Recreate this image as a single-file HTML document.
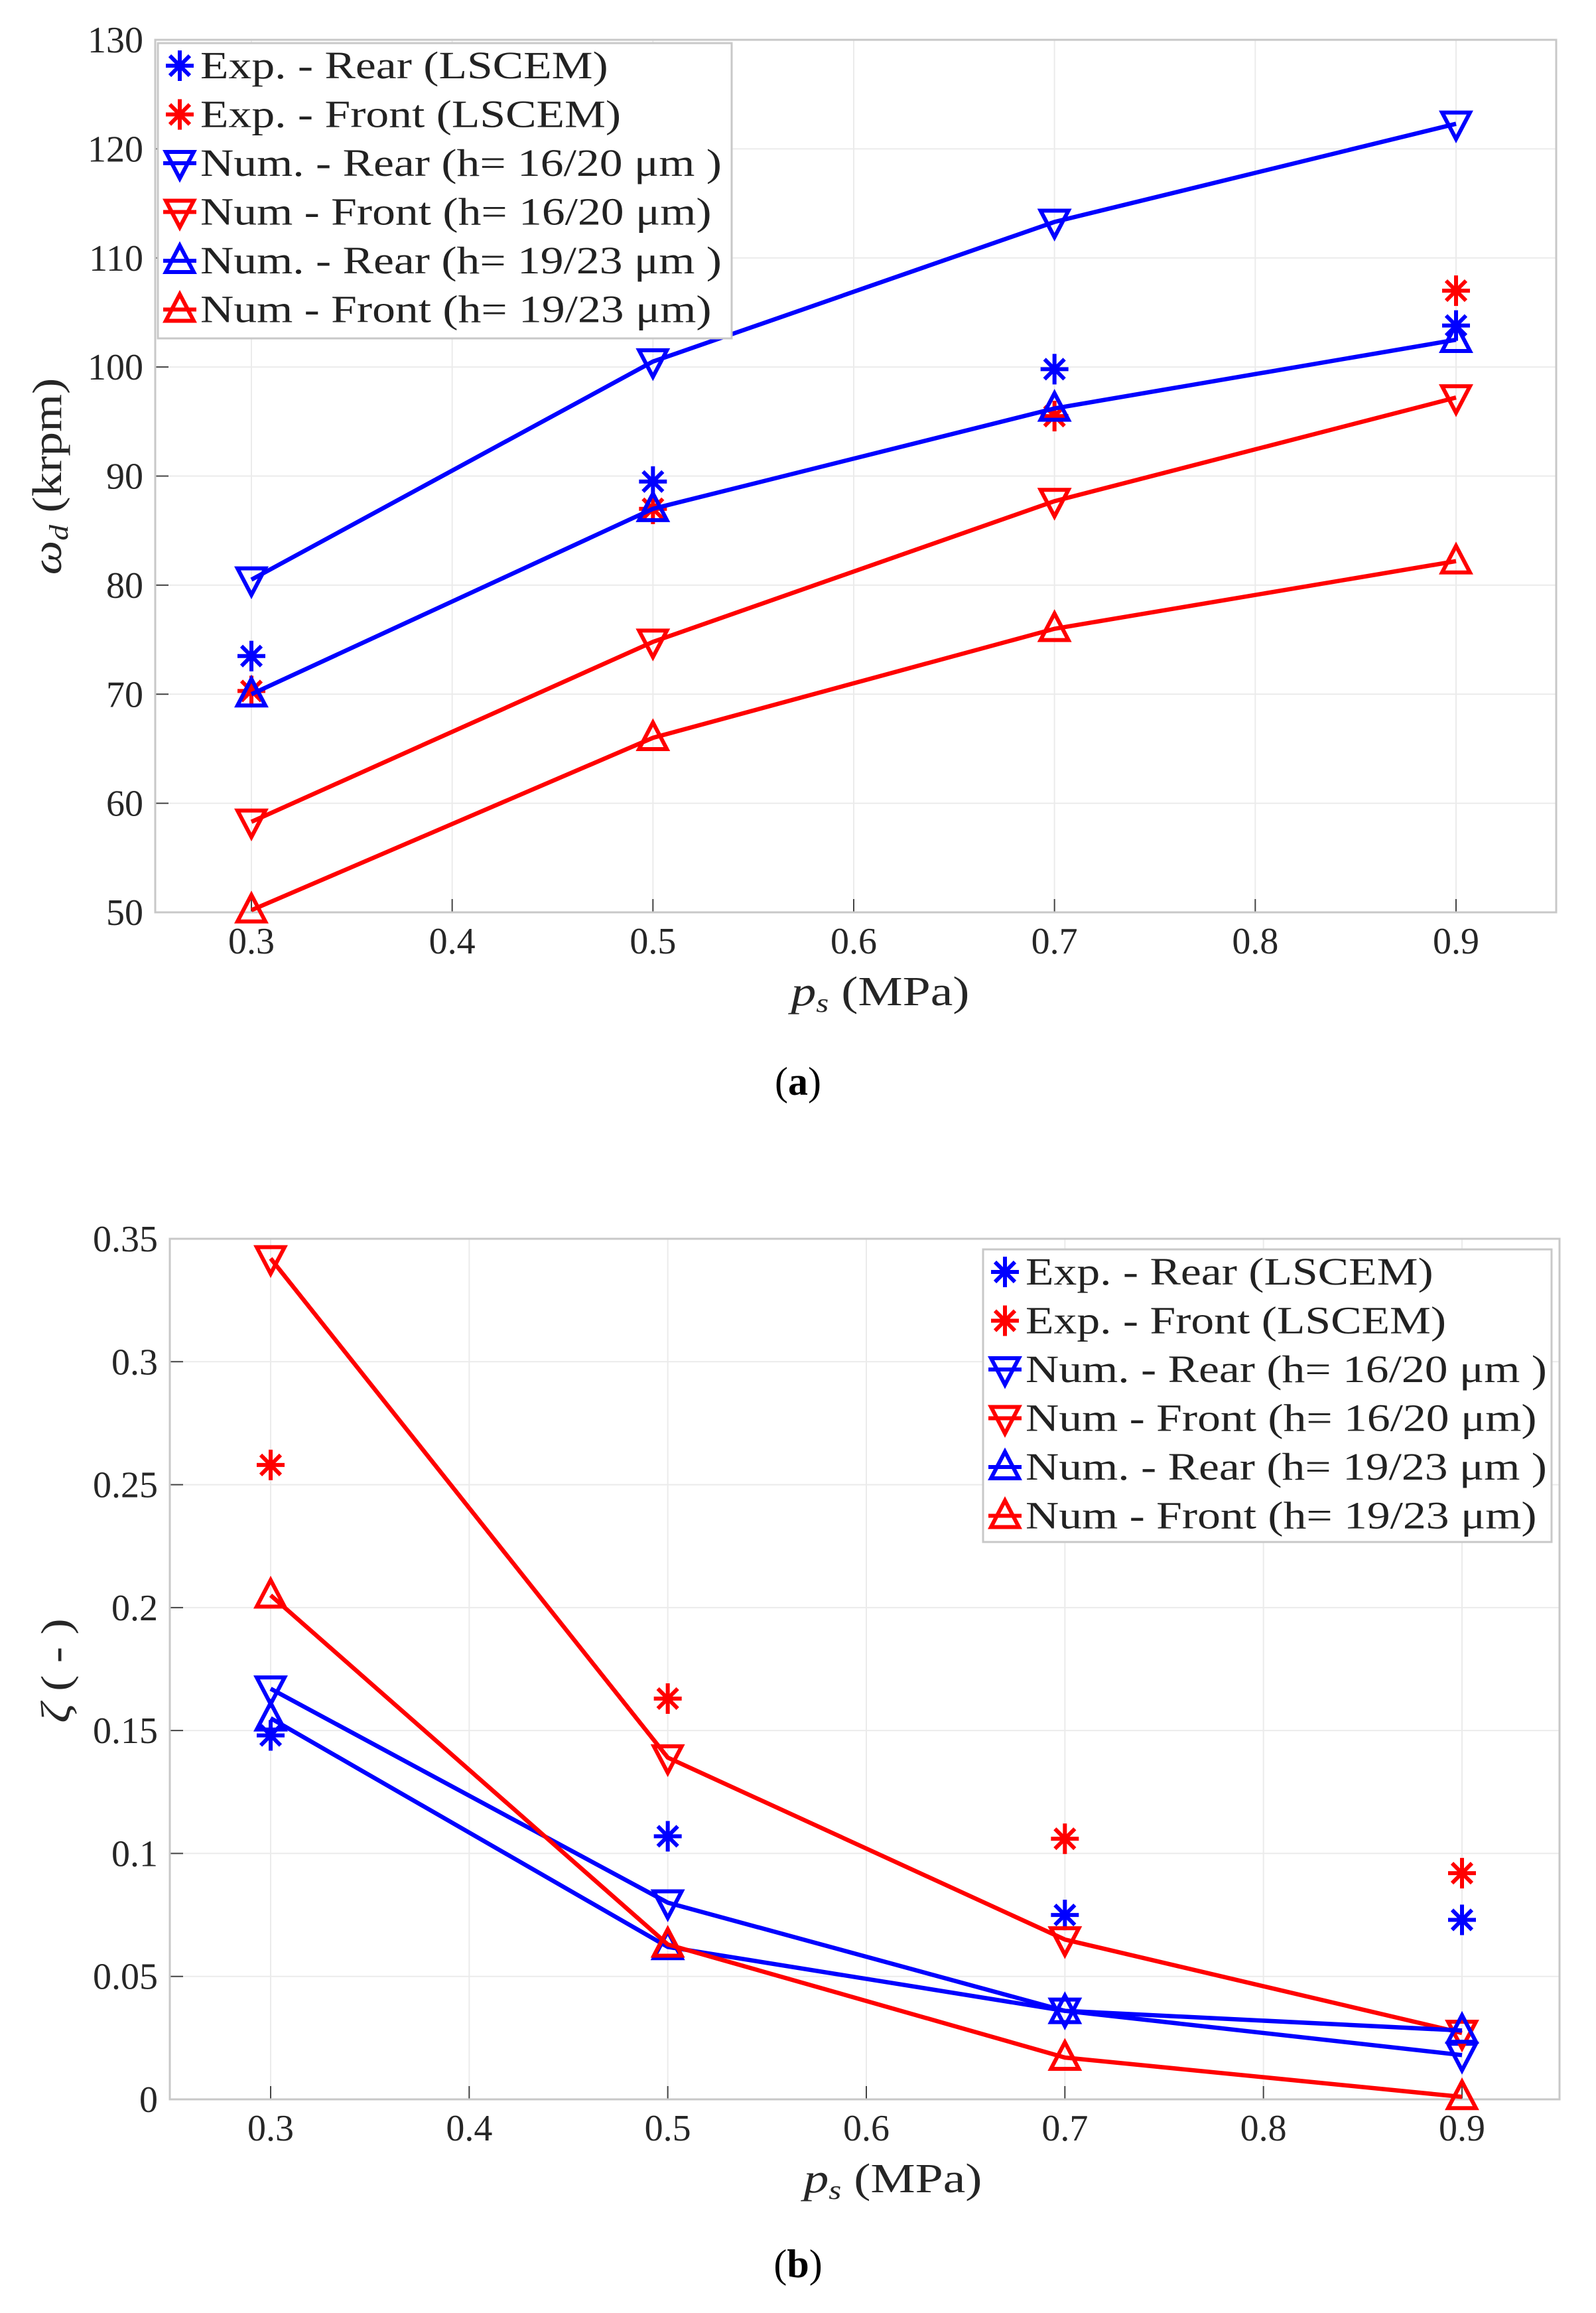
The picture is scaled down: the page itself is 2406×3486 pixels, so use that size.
<!DOCTYPE html>
<html><head><meta charset="utf-8"><style>
html,body{margin:0;padding:0;background:#fff;}
svg{display:block;font-family:"Liberation Serif",serif;}
</style></head><body>
<svg id="svg" width="2406" height="3486" viewBox="0 0 2406 3486" xmlns="http://www.w3.org/2000/svg"></svg>
<script>
const xCats=[0.3,0.5,0.7,0.9];
const xTicks=[0.3,0.4,0.5,0.6,0.7,0.8,0.9];
const aTicks=[50,60,70,80,90,100,110,120,130];
const aExpRear=[73.5,89.5,99.8,103.8];
const aExpFront=[70.3,87,95.5,107];
const aNumRear1620=[80.5,100.5,113.3,122.3];
const aNumFront1620=[58.3,74.8,87.7,97.2];
const aNumRear1923=[70,87,96.2,102.5];
const aNumFront1923=[50.2,66,76,82.2];
const bTicks=[0,0.05,0.1,0.15,0.2,0.25,0.3,0.35];
const bExpRear=[0.148,0.107,0.075,0.073];
const bExpFront=[0.258,0.163,0.106,0.092];
const bNumRear1620=[0.167,0.080,0.036,0.018];
const bNumFront1620=[0.342,0.139,0.065,0.027];
const bNumRear1923=[0.155,0.062,0.036,0.028];
const bNumFront1923=[0.205,0.063,0.017,0.001];
const legendLabels=["Exp. - Rear (LSCEM)","Exp. - Front (LSCEM)","Num. - Rear (h= 16/20 μm )","Num - Front (h= 16/20 μm)","Num. - Rear (h= 19/23 μm )","Num - Front (h= 19/23 μm)"];

const NS="http://www.w3.org/2000/svg";
const svg=document.getElementById('svg');
function mk(tag,attrs,parent){const e=document.createElementNS(NS,tag);for(const k in attrs)e.setAttribute(k,attrs[k]);(parent||svg).appendChild(e);return e;}
function stretch(t,k){const l=t.getComputedTextLength();t.setAttribute('textLength',l*k);t.setAttribute('lengthAdjust','spacingAndGlyphs');}
function marker(g,type,cx,cy,col){
  const s=21;
  if(type==='star'){
    const p=mk('path',{d:`M${cx-s} ${cy}H${cx+s}M${cx} ${cy-s-2}V${cy+s+2}M${cx-15} ${cy-15}L${cx+15} ${cy+15}M${cx-15} ${cy+15}L${cx+15} ${cy-15}`,stroke:col,'stroke-width':6,fill:'none'},g);
    
  } else if(type==='down'){
    const p=mk('path',{d:`M${cx-s} ${cy-17}L${cx+s} ${cy-17}L${cx} ${cy+23}Z`,stroke:col,'stroke-width':6,fill:'none'},g);
    
  } else {
    const p=mk('path',{d:`M${cx-s} ${cy+17}L${cx+s} ${cy+17}L${cx} ${cy-23}Z`,stroke:col,'stroke-width':6,fill:'none'},g);
    
  }
}
function chart(cfg){
  const {L,R,T,B,x0,x1,ymin,ymax,yTicks,fmt,series,leg,name}=cfg;
  const g=mk('g',{});
  
  
  const X=v=>x0+(v-0.3)/(0.6)*(x1-x0);
  const Y=v=>B-(v-ymin)/(ymax-ymin)*(B-T);
  xTicks.forEach(t=>{const l=mk('line',{x1:X(t),x2:X(t),y1:T,y2:B,stroke:'#ebebeb','stroke-width':2},g);
    const tx=mk('text',{x:X(t),y:B+62,'font-size':56,'text-anchor':'middle',fill:'#262626'},g);tx.textContent=t.toFixed(1);
    mk('line',{x1:X(t),x2:X(t),y1:B,y2:B-20,stroke:'#444','stroke-width':2},g);});
  yTicks.forEach(t=>{const l=mk('line',{x1:L,x2:R,y1:Y(t),y2:Y(t),stroke:'#ebebeb','stroke-width':2},g);
    const tx=mk('text',{x:L-18,y:Y(t)+19,'font-size':56,'text-anchor':'end',fill:'#262626'},g);tx.textContent=fmt(t);
    mk('line',{x1:L,x2:L+20,y1:Y(t),y2:Y(t),stroke:'#444','stroke-width':2},g);});
  const box=mk('rect',{x:L,y:T,width:R-L,height:B-T,fill:'none',stroke:'#c8c8c8','stroke-width':3},g);
  
  series.forEach(s=>{
    const sg=mk('g',{},g);
    if(s.line){const pl=mk('polyline',{points:xCats.map((x,i)=>X(x)+','+Y(s.v[i])).join(' '),fill:'none',stroke:s.col,'stroke-width':6.5},sg);}
    xCats.forEach((x,i)=>marker(sg,s.m,X(x),Y(s.v[i]),s.col));
  });
  const lg=mk('g',{},g);
  mk('rect',{x:leg.x,y:leg.y,width:leg.w,height:leg.h,fill:'#fff',stroke:'#c8c8c8','stroke-width':3},lg);
  series.forEach((s,i)=>{
    const cy=leg.y+34+i*73.5;
    const eg=mk('g',{},lg);
    if(s.line)mk('line',{x1:leg.x+8,x2:leg.x+58,y1:cy,y2:cy,stroke:s.col,'stroke-width':6},eg);
    marker(eg,s.m,leg.x+33,cy,s.col);
    const t=mk('text',{x:leg.x+64,y:cy+19,'font-size':58,fill:'#222'},eg);t.textContent=legendLabels[i];
    stretch(t,1.2);
  });
  const xl=mk('text',{x:(x0+x1)/2+40,y:B+140,'font-size':62,'text-anchor':'middle',fill:'#262626'},g);
  xl.innerHTML='<tspan font-style="italic">p</tspan><tspan font-style="italic" font-size="40" dy="10">s</tspan><tspan dy="-10"> (MPa)</tspan>';
  
  stretch(xl,1.22);
  const yl=mk('text',{transform:`translate(${cfg.ylx},${cfg.yly}) rotate(-90)`,'font-size':62,'text-anchor':'middle',fill:'#262626'},g);
  yl.innerHTML=cfg.ylab;
  stretch(yl,1.18);
  const cap=mk('text',{x:1203,y:cfg.capY,'font-size':60,'text-anchor':'middle',fill:'#000'},g);
  cap.innerHTML=cfg.cap;
}
chart({name:'chart-a-speed',L:234,R:2346,T:60,B:1375,x0:379,x1:2195,ymin:50,ymax:130,yTicks:aTicks,fmt:t=>String(t),
 series:[{name:'exp-rear',v:aExpRear,col:'#0000ff',m:'star',line:false},{name:'exp-front',v:aExpFront,col:'#ff0000',m:'star',line:false},
 {name:'num-rear-16-20',v:aNumRear1620,col:'#0000ff',m:'down',line:true},{name:'num-front-16-20',v:aNumFront1620,col:'#ff0000',m:'down',line:true},
 {name:'num-rear-19-23',v:aNumRear1923,col:'#0000ff',m:'up',line:true},{name:'num-front-19-23',v:aNumFront1923,col:'#ff0000',m:'up',line:true}],
 leg:{x:238,y:65,w:865,h:445},ylx:92,yly:718,ylab:'<tspan font-style="italic">ω</tspan><tspan font-style="italic" font-size="40" dy="10">d</tspan><tspan dy="-10"> (krpm)</tspan>',capY:1650,cap:'(<tspan font-weight="bold">a</tspan>)'});
chart({name:'chart-b-damping',L:256,R:2351,T:1867,B:3164,x0:408,x1:2204,ymin:0,ymax:0.35,yTicks:bTicks,fmt:t=>t===0?'0':String(+t.toFixed(2)),
 series:[{name:'exp-rear',v:bExpRear,col:'#0000ff',m:'star',line:false},{name:'exp-front',v:bExpFront,col:'#ff0000',m:'star',line:false},
 {name:'num-rear-16-20',v:bNumRear1620,col:'#0000ff',m:'down',line:true},{name:'num-front-16-20',v:bNumFront1620,col:'#ff0000',m:'down',line:true},
 {name:'num-rear-19-23',v:bNumRear1923,col:'#0000ff',m:'up',line:true},{name:'num-front-19-23',v:bNumFront1923,col:'#ff0000',m:'up',line:true}],
 leg:{x:1482,y:1883,w:857,h:441},ylx:105,yly:2518,ylab:'<tspan font-style="italic">ζ</tspan> ( - )',capY:3432,cap:'(<tspan font-weight="bold">b</tspan>)'});
</script>
</body></html>
